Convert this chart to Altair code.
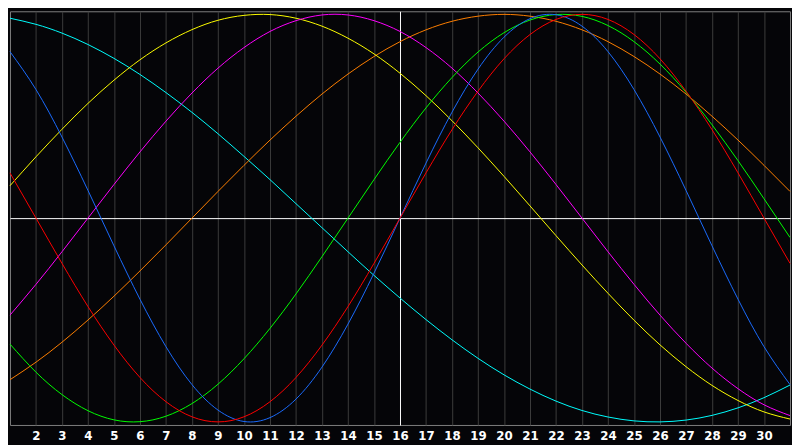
from __future__ import annotations

import altair as alt
import pandas as pd

# days of the month shown on the x axis
days = list(range(1, 32))
tick_days = list(range(2, 31))
mid_day = 16

# curve values, one per day (-1 .. 1)
physical = [0.817, 0.631, 0.398, 0.136, -0.136, -0.398, -0.631, -0.817, -0.942, -0.998,
            -0.979, -0.888, -0.731, -0.520, -0.270, 0.0, 0.270, 0.520, 0.731, 0.888,
            0.979, 0.998, 0.942, 0.817, 0.631, 0.398, 0.136, -0.136, -0.398, -0.631, -0.817]
emotional = [0.222, 0.0, -0.222, -0.434, -0.623, -0.782, -0.901, -0.975, -1.0, -0.975,
             -0.901, -0.782, -0.623, -0.434, -0.222, 0.0, 0.222, 0.434, 0.623, 0.782,
             0.901, 0.975, 1.0, 0.975, 0.901, 0.782, 0.623, 0.434, 0.222, 0.0, -0.222]
intellectual = [-0.618, -0.756, -0.866, -0.945, -0.990, -0.999, -0.972, -0.910, -0.815, -0.690,
                -0.541, -0.372, -0.189, 0.0, 0.189, 0.372, 0.541, 0.690, 0.815, 0.910,
                0.972, 0.999, 0.990, 0.945, 0.866, 0.756, 0.618, 0.458, 0.282, 0.095, -0.095]
intuitive = [-0.476, -0.325, -0.165, 0.0, 0.165, 0.325, 0.476, 0.614, 0.736, 0.837,
             0.916, 0.969, 0.997, 0.997, 0.969, 0.916, 0.837, 0.736, 0.614, 0.476,
             0.325, 0.165, 0.0, -0.165, -0.325, -0.476, -0.614, -0.736, -0.837, -0.916, -0.969]
aesthetic = [0.159, 0.301, 0.436, 0.563, 0.677, 0.777, 0.860, 0.925, 0.971, 0.995,
             0.999, 0.981, 0.942, 0.883, 0.806, 0.711, 0.601, 0.478, 0.345, 0.205,
             0.060, -0.086, -0.230, -0.369, -0.501, -0.622, -0.729, -0.821, -0.895, -0.951, -0.986]
awareness = [-0.793, -0.707, -0.609, -0.500, -0.383, -0.259, -0.131, 0.0, 0.131, 0.259,
             0.383, 0.500, 0.609, 0.707, 0.793, 0.866, 0.924, 0.966, 0.991, 1.0,
             0.991, 0.966, 0.924, 0.866, 0.793, 0.707, 0.609, 0.500, 0.383, 0.259, 0.131]
spiritual = [0.981, 0.951, 0.908, 0.852, 0.784, 0.705, 0.616, 0.519, 0.414, 0.303,
             0.189, 0.071, -0.047, -0.165, -0.281, -0.392, -0.498, -0.597, -0.688, -0.769,
             -0.839, -0.898, -0.944, -0.976, -0.995, -1.0, -0.991, -0.968, -0.931, -0.881, -0.819]

series = {
    "spiritual": spiritual,
    "awareness": awareness,
    "aesthetic": aesthetic,
    "intuitive": intuitive,
    "intellectual": intellectual,
    "physical": physical,
    "emotional": emotional,
}
colors = {
    "spiritual": "#00ffff",
    "awareness": "#ff7f00",
    "aesthetic": "#ffff00",
    "intuitive": "#ff00ff",
    "intellectual": "#00ff00",
    "physical": "#1a6cff",
    "emotional": "#ff0000",
}

rows = []
for name, vals in series.items():
    for d, v in zip(days, vals):
        rows.append({"day": d, "value": v, "cycle": name})
df = pd.DataFrame(rows)

chart = alt.Chart(df).mark_line(strokeWidth=1, interpolate="natural").encode(
    x=alt.X(
        "day:Q",
        scale=alt.Scale(domain=[1, 31], nice=False, zero=False),
        title="",
        axis=alt.Axis(
            values=tick_days,
            grid=True,
            # day 16 is the white marker line, the rest are dark grey
            gridColor={
                "condition": {"test": f"datum.value === {mid_day}", "value": "#ffffff"},
                "value": "#3c3c3c",
            },
            gridWidth=1,
            domain=False,
            ticks=False,
            labelColor="#ffffff",
            labelFont="DejaVu Sans",
            labelFontWeight="bold",
            labelFontSize=12,
            labelPadding=6,
        ),
    ),
    y=alt.Y(
        "value:Q",
        scale=alt.Scale(domain=[-1.015, 1.015], nice=False),
        title="",
        axis=alt.Axis(
            values=[0],
            grid=True,
            gridColor="#ffffff",
            gridWidth=1,
            domain=False,
            ticks=False,
            labels=False,
        ),
    ),
    color=alt.Color(
        "cycle:N",
        scale=alt.Scale(domain=list(colors.keys()), range=list(colors.values())),
        legend=None,
    ),
).properties(
    width=792,
    height=420,
    padding=0,
    background="#050508",
).configure_view(
    stroke="#808080",
    strokeWidth=1,
    fill="#050508",
)

chart.save("out.html", embed_options={"renderer": "svg", "actions": False})
